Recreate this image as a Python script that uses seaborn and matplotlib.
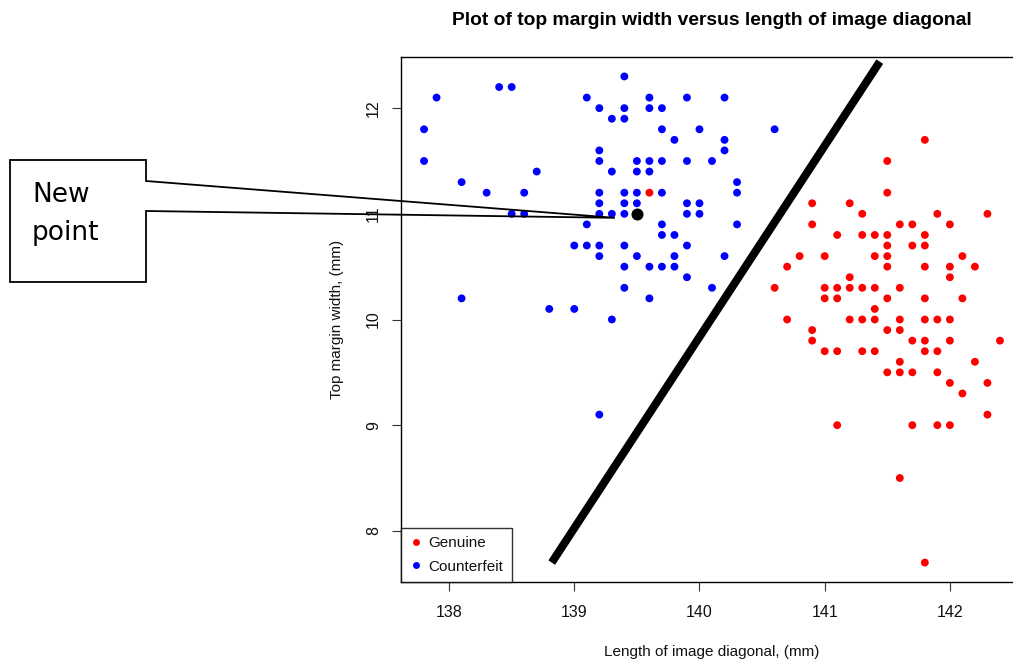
import matplotlib
matplotlib.use("Agg")
import matplotlib.pyplot as plt
from matplotlib.patches import Polygon
from matplotlib.lines import Line2D
from matplotlib.transforms import IdentityTransform
import numpy as np
import pandas as pd
import seaborn as sns

# ---------------- data ----------------
genuine_diag = [141.8, 141.5, 141.5, 140.9, 141.2, 141.3, 141.9, 142.3,
                140.9, 141.6, 141.7, 142.0,
                141.1, 141.3, 141.4, 141.5, 141.8,
                141.5, 141.7, 141.8,
                140.8, 141.0, 141.4, 141.5, 142.1,
                140.7, 141.5, 141.8, 142.0, 142.2,
                141.2, 142.0,
                140.6, 141.0, 141.1, 141.2, 141.3, 141.4, 141.6,
                141.0, 141.1, 141.5, 141.8, 142.1,
                141.4,
                140.7, 141.2, 141.3, 141.4, 141.6, 141.8, 141.9, 142.0,
                140.9, 141.5, 141.6,
                140.9, 141.7, 141.8, 142.0, 142.4,
                141.0, 141.1, 141.3, 141.4, 141.8, 141.9,
                141.6, 142.2,
                141.5, 141.6, 141.7, 141.9,
                142.0, 142.3,
                142.1,
                142.3,
                141.1, 141.7, 141.9, 142.0,
                141.6,
                141.8,
                139.6]
genuine_top = [11.7, 11.5, 11.2, 11.1, 11.1, 11.0, 11.0, 11.0,
               10.9, 10.9, 10.9, 10.9,
               10.8, 10.8, 10.8, 10.8, 10.8,
               10.7, 10.7, 10.7,
               10.6, 10.6, 10.6, 10.6, 10.6,
               10.5, 10.5, 10.5, 10.5, 10.5,
               10.4, 10.4,
               10.3, 10.3, 10.3, 10.3, 10.3, 10.3, 10.3,
               10.2, 10.2, 10.2, 10.2, 10.2,
               10.1,
               10.0, 10.0, 10.0, 10.0, 10.0, 10.0, 10.0, 10.0,
               9.9, 9.9, 9.9,
               9.8, 9.8, 9.8, 9.8, 9.8,
               9.7, 9.7, 9.7, 9.7, 9.7, 9.7,
               9.6, 9.6,
               9.5, 9.5, 9.5, 9.5,
               9.4, 9.4,
               9.3,
               9.1,
               9.0, 9.0, 9.0, 9.0,
               8.5,
               7.7,
               11.2]

counterfeit_diag = [137.9, 138.4, 138.5, 139.1, 139.2, 137.8, 137.8, 139.2,
                    139.2, 138.7, 138.1, 138.3, 138.6, 139.2, 139.2, 139.2,
                    138.5, 138.6, 139.1, 139.4, 139.6, 139.9, 140.2, 139.4,
                    139.6, 139.7, 139.3, 139.4, 139.7, 140.0, 140.6, 139.8,
                    140.2, 140.2, 139.5, 139.6, 139.7, 139.9, 140.1, 139.3,
                    139.5, 139.6, 140.3, 139.4, 139.5, 139.7, 140.3, 139.4,
                    139.5, 139.9, 140.0, 139.3, 139.4, 139.9, 140.0, 139.7,
                    140.3, 139.7, 139.8, 139.0, 139.1, 139.2, 139.4, 139.9,
                    139.2, 139.5, 139.8, 140.2, 139.4, 139.6, 139.7, 139.8,
                    139.9, 139.4, 140.1, 139.6, 138.1, 138.8, 139.0, 139.3,
                    139.2]
counterfeit_top = [12.1, 12.2, 12.2, 12.1, 12.0, 11.8, 11.5, 11.6,
                   11.5, 11.4, 11.3, 11.2, 11.2, 11.2, 11.1, 11.0,
                   11.0, 11.0, 10.9, 12.3, 12.1, 12.1, 12.1, 12.0,
                   12.0, 12.0, 11.9, 11.9, 11.8, 11.8, 11.8, 11.7,
                   11.7, 11.6, 11.5, 11.5, 11.5, 11.5, 11.5, 11.4,
                   11.4, 11.4, 11.3, 11.2, 11.2, 11.2, 11.2, 11.1,
                   11.1, 11.1, 11.1, 11.0, 11.0, 11.0, 11.0, 10.9,
                   10.9, 10.8, 10.8, 10.7, 10.7, 10.7, 10.7, 10.7,
                   10.6, 10.6, 10.6, 10.6, 10.5, 10.5, 10.5, 10.5,
                   10.4, 10.3, 10.3, 10.2, 10.2, 10.1, 10.1, 10.0,
                   9.1]

new_point_diag = [139.5]
new_point_top = [11.0]

boundary_diag = [138.82, 141.44]
boundary_top = [7.70, 12.44]

group_names = ["Genuine", "Counterfeit"]
group_colors = ["#FF0000", "#0000FF"]

x_ticks = [138, 139, 140, 141, 142]
y_ticks = [8, 9, 10, 11, 12]

title_text = "Plot of top margin width versus length of image diagonal"
x_label = "Length of image diagonal, (mm)"
y_label = "Top margin width, (mm)"
callout_lines = ["New", "point"]

# ---------------- frame ----------------
df = pd.DataFrame({
    "diag": genuine_diag + counterfeit_diag,
    "top": genuine_top + counterfeit_top,
    "group": [group_names[0]] * len(genuine_diag) + [group_names[1]] * len(counterfeit_diag),
})

sns.set_theme(style="white")
plt.rcParams["font.family"] = ["Liberation Sans", "DejaVu Sans"]
plt.rcParams["text.color"] = "black"
plt.rcParams["axes.labelcolor"] = "black"
plt.rcParams["xtick.color"] = "black"
plt.rcParams["ytick.color"] = "black"

W, H = 1013, 660
fig = plt.figure(figsize=(W / 100, H / 100), dpi=100)
ax = fig.add_axes([401 / W, 78 / H, (1023 - 401) / W, (582 - 57) / H])

sns.scatterplot(data=df, x="diag", y="top", hue="group",
                palette=dict(zip(group_names, group_colors)),
                s=32, linewidth=0, legend=False, ax=ax, zorder=3)
sns.scatterplot(x=new_point_diag, y=new_point_top, color="black",
                s=75, linewidth=0, ax=ax, zorder=4)
sns.lineplot(x=boundary_diag, y=boundary_top, color="black", linewidth=5.8,
             ax=ax, zorder=5, solid_capstyle="butt")

ax.set_xlim(137.616, 142.584)
ax.set_ylim(7.516, 12.484)
ax.set_xticks(x_ticks)
ax.set_yticks(y_ticks)
ax.set_xticklabels([str(t) for t in x_ticks])
ax.set_yticklabels([str(t) for t in y_ticks], rotation=90, va="center")
ax.tick_params(axis="both", direction="out", length=6.5, width=0.8,
               color="#333333", labelsize=11.5, labelcolor="#111111",
               bottom=True, left=True)
ax.tick_params(axis="x", pad=10)
ax.tick_params(axis="y", pad=8)
for sp in ax.spines.values():
    sp.set_visible(True)
    sp.set_color("black")
    sp.set_linewidth(1.0)

ax.set_title(title_text, fontsize=13.9, fontweight="bold", pad=23, color="black")
ax.set_xlabel(x_label, fontsize=11, labelpad=18, color="#111111")
ax.set_ylabel(y_label, fontsize=11, labelpad=16, color="#111111")

handles = [Line2D([], [], marker="o", linestyle="none", markersize=5,
                  markerfacecolor=c, markeredgewidth=0) for c in group_colors]
leg = ax.legend(handles, group_names, loc="lower left", bbox_to_anchor=(0, 0),
                borderaxespad=0, frameon=True, fancybox=False, fontsize=11,
                handlelength=0.8, handletextpad=0.45, labelspacing=0.6,
                borderpad=0.55)
leg.get_frame().set_edgecolor("black")
leg.get_frame().set_linewidth(1.0)
leg.set_zorder(6)
for t in leg.get_texts():
    t.set_color("#111111")

# ---------------- callout ----------------
fig.canvas.draw()
px, py = ax.transData.transform((new_point_diag[0], new_point_top[0]))
tip = (px - 22, py - 4)

def img(x, y):
    return (x, H - y)

poly_pts = [img(10, 160), img(146, 160), img(146, 181), tip,
            img(146, 211), img(146, 282), img(10, 282)]
callout = Polygon(poly_pts, closed=True, fill=False, edgecolor="black",
                  linewidth=1.3, transform=IdentityTransform(), zorder=10,
                  joinstyle="miter")
fig.add_artist(callout)

fig.text(32 / W, 1 - 202 / H, callout_lines[0], fontsize=19,
         family="DejaVu Sans", va="baseline", ha="left", color="black")
fig.text(32 / W, 1 - 240 / H, callout_lines[1], fontsize=19,
         family="DejaVu Sans", va="baseline", ha="left", color="black")

fig.savefig("out.png", dpi=100, facecolor="white")
